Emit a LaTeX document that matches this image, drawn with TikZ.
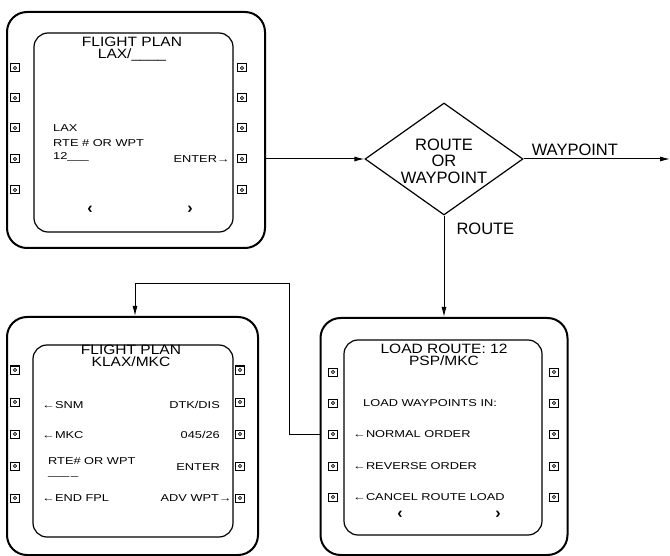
\documentclass[tikz,border=0pt]{standalone}
\usepackage{fontspec}
\setmainfont{Liberation Sans}
\newfontfamily\widefont[FakeStretch=1.28]{Liberation Sans}
\newfontfamily\titlefont[FakeStretch=1.15]{Liberation Sans}
\usetikzlibrary{shapes.geometric,arrows.meta,calc}
\begin{document}
\begin{tikzpicture}[x=1pt,y=-1pt,
 frame/.style={draw, line width=2pt, rounded corners=20pt, inner sep=0pt},
 screen/.style={draw, line width=1.2pt, rounded corners=14pt, inner sep=0pt},
 btn/.style={draw, line width=1pt, minimum width=9pt, minimum height=8pt, inner sep=0pt,
   path picture={\draw[line width=0.8pt] (path picture bounding box.center) circle (1.6pt);}},
 arr/.style={line width=1pt, -{Latex[length=10pt,width=5pt]}},
 sm/.style={font=\widefont\fontsize{10}{11}\selectfont, inner sep=0pt},
 ttl/.style={font=\titlefont\fontsize{13.5}{12}\selectfont, inner sep=0pt, align=center},
 big/.style={font=\fontsize{16.5}{17}\selectfont, inner sep=0pt},
 brk/.style={font=\bfseries\fontsize{16}{16}\selectfont, inner sep=0pt}
]
\useasboundingbox (0,0) rectangle (670,556);

% ---------- display 1 (top left) ----------
\node[frame, minimum width=258pt, minimum height=236pt] (d1) at (136,130) {};
\node[screen, minimum width=199pt, minimum height=199pt] (s1) at (133.5,132.5) {};
\foreach \y [count=\i] in {68,98,128,159,190} {
  \node[btn] (d1l\i) at (15,\y) {};
  \node[btn] (d1r\i) at (242,\y) {};
}
\node[ttl] (t1a) at (132,49) {FLIGHT PLAN\\LAX/\_\_\_\_};
\node[sm, anchor=west] (t1c) at (53,128) {LAX};
\node[sm, anchor=west] (t1d) at (53,143) {RTE \# OR WPT};
\node[sm, anchor=west] (t1e) at (53,157) {12\_\_\_};
\node[sm, anchor=east] (t1f) at (230,159) {ENTER→};
\node[brk] (t1g) at (90,210) {‹};
\node[brk] (t1h) at (190,210) {›};

% ---------- decision ----------
\node[diamond, draw, line width=1.2pt, minimum width=158pt, minimum height=112pt, inner sep=0pt] (dia) at (444,159) {};
\node[big, align=center] (diat) at (444,161) {ROUTE\\[-0.5pt]OR\\[-0.5pt]WAYPOINT};
\coordinate (wpend) at (670,159);

% ---------- display 2 (bottom left) ----------
\node[frame, minimum width=251pt, minimum height=238pt] (d2) at (132.5,436) {};
\node[screen, minimum width=200pt, minimum height=192pt] (s2) at (133,441) {};
\foreach \y [count=\i] in {370,402,434,466,498} {
  \node[btn] (d2l\i) at (15,\y) {};
  \node[btn] (d2r\i) at (240,\y) {};
}
\node[ttl] (t2a) at (131,356) {FLIGHT PLAN\\KLAX/MKC};
\node[sm, anchor=west] (t2c) at (42,405) {←SNM};
\node[sm, anchor=east] (t2d) at (220,405) {DTK/DIS};
\node[sm, anchor=west] (t2e) at (42,435) {←MKC};
\node[sm, anchor=east] (t2f) at (220,435) {045/26};
\node[sm, anchor=west] (t2g) at (48,461) {RTE\# OR WPT};
\node[sm, anchor=west] (t2h) at (48,476) {\_\_\_\,\_};
\node[sm, anchor=east] (t2i) at (220,467) {ENTER};
\node[sm, anchor=west] (t2j) at (42,498) {←END FPL};
\node[sm, anchor=east] (t2k) at (232,498) {ADV WPT→};

% ---------- display 3 (bottom right) ----------
\node[frame, minimum width=247pt, minimum height=237pt] (d3) at (444,436.5) {};
\node[screen, minimum width=198pt, minimum height=195pt] (s3) at (443,437.5) {};
\foreach \y [count=\i] in {372,403,434,466,497} {
  \node[btn] (d3l\i) at (333,\y) {};
  \node[btn] (d3r\i) at (554,\y) {};
}
\node[ttl] (t3a) at (444,355) {LOAD ROUTE: 12\\PSP/MKC};
\node[sm, anchor=west] (t3c) at (363,403) {LOAD WAYPOINTS IN:};
\node[sm, anchor=west] (t3d) at (353,434) {←NORMAL ORDER};
\node[sm, anchor=west] (t3e) at (353,466) {←REVERSE ORDER};
\node[sm, anchor=west] (t3f) at (353,497) {←CANCEL ROUTE LOAD};
\node[brk] (t3g) at (400,515) {‹};
\node[brk] (t3h) at (498,515) {›};

% ---------- connectors ----------
\draw[arr] (d1r4 -| d1.east) -- (dia.west);
\draw[arr] (dia.east) -- node[big, pos=0.35, anchor=south, yshift=3pt] (wplab) {WAYPOINT} (wpend);
\draw[arr] (dia.south) -- node[big, pos=0.13, anchor=west, xshift=12pt] (rtlab) {ROUTE} (d3.north);
\draw[arr] (d3l3 -| d3.west) -- ++(-30,0) |- ($(d2.north)+(2.5,-32)$) -- ($(d2.north)+(2.5,0)$);
\end{tikzpicture}
\end{document}
